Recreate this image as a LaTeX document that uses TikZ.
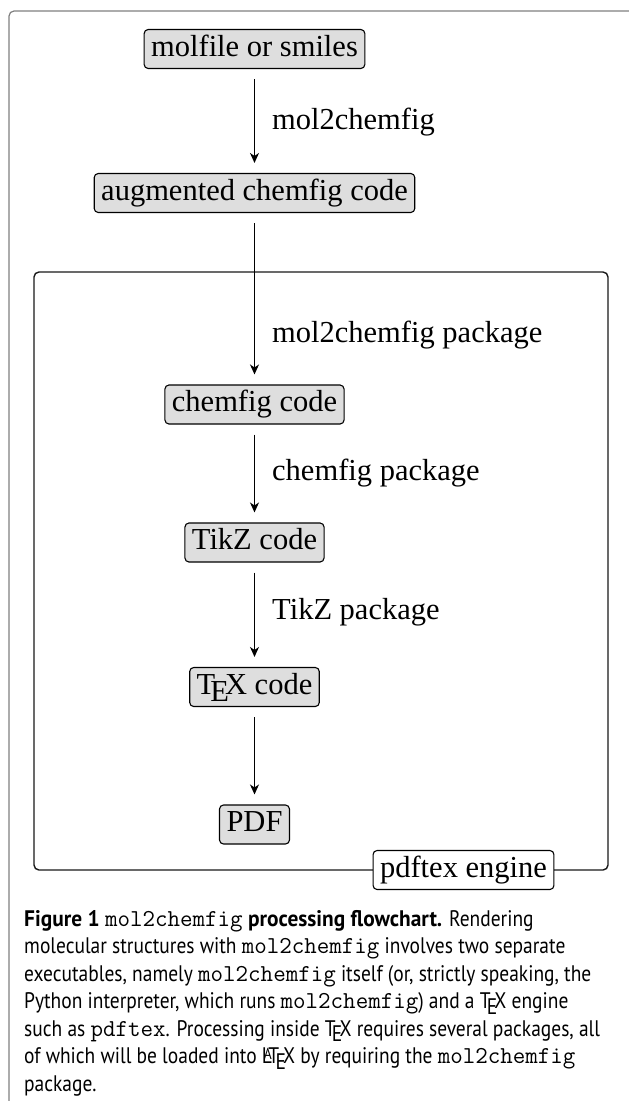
\documentclass[tikz,border=0pt]{standalone}
\usepackage{fontspec}
\setmainfont{Liberation Serif}
\setsansfont{PT Sans}[UprightFeatures = {FakeStretch = 0.865}, BoldFeatures = {FakeStretch = 0.95}]
\usetikzlibrary{positioning}
\usetikzlibrary{arrows.meta}

\newcommand*{\flowfont}{\fontsize{30.5}{36}\selectfont}
\newcommand*{\capfont}{\sffamily\fontsize{22.5}{27.5}\selectfont}
\newcommand*{\capcode}[1]{{\mdseries\ttfamily\fontsize{24.3}{27.5}\selectfont #1}}

\tikzset{
    codebox/.style = {draw, fill = black!13, rounded corners = 4pt, line width = 1.1pt,
        inner xsep = 7pt, inner ysep = 5.5pt, text height = 21pt, text depth = 7pt, font = \flowfont},
    enginebox/.style = {codebox, fill = white},
    steplabel/.style = {anchor = west, inner sep = 0pt, font = \flowfont},
    flow/.style = {-{Stealth[length = 10pt, width = 9pt, inset = 3pt]}, line width = 1.2pt,
        shorten <= 10pt, shorten >= 10pt},
}

\begin{document}
\begin{tikzpicture}[x = 1pt, y = -1pt, line join = round]
    \useasboundingbox (0,0) rectangle (629,1101);

    % frame of the figure
    \draw[black!50, line width = 1.2pt, rounded corners = 5pt] (629,11) -- (9,11) -- (9,1101);

    \node (mol) at (254.5,49) [codebox] {molfile or smiles};
    \node (aug) at (254.5,193) [codebox] {augmented chemfig code};

    \begin{scope}[on grid]
        \draw[black!90, line width = 1.4pt, rounded corners = 5pt] (34,272) rectangle (608,870);

        \node (chem) at (254.5,404.5) [codebox] {chemfig code};
        \node (tikz) [codebox, below = 138pt of chem] {TikZ code};
        \node (tex)  [codebox, below = 144.5pt of tikz] {\TeX\ code};
        \node (pdf)  [codebox, below = 137.5pt of tex] {PDF};

        \node (engine) at (463.5,870) [enginebox] {pdftex engine};
    \end{scope}

    \draw[flow] (mol) -- (aug);
    \draw[flow] (aug) -- (chem);
    \draw[flow] (chem) -- (tikz);
    \draw[flow] (tikz) -- (tex);
    \draw[flow] (tex) -- (pdf);

    \node (lmol)  at (272,122) [steplabel] {mol2chemfig};
    \node (lsty)  at (272,335) [steplabel] {mol2chemfig package};
    \node (lchem) at (272,473) [steplabel] {chemfig package};
    \node (ltikz) at (272,612) [steplabel] {TikZ package};

    \node (caption) at (24,910) [anchor = north west, align = left, inner sep = 0pt, font = \capfont] {%
        \textbf{Figure 1 \capcode{mol2chemfig} processing flowchart.} Rendering\\
        molecular structures with \capcode{mol2chemfig} involves two separate\\
        executables, namely \capcode{mol2chemfig} itself (or, strictly speaking, the\\
        Python interpreter, which runs \capcode{mol2chemfig}) and a \TeX{} engine\\
        such as \capcode{pdftex}. Processing inside \TeX{} requires several packages, all\\
        of which will be loaded into \LaTeX{} by requiring the \capcode{mol2chemfig}\\
        package.};
\end{tikzpicture}
\end{document}
